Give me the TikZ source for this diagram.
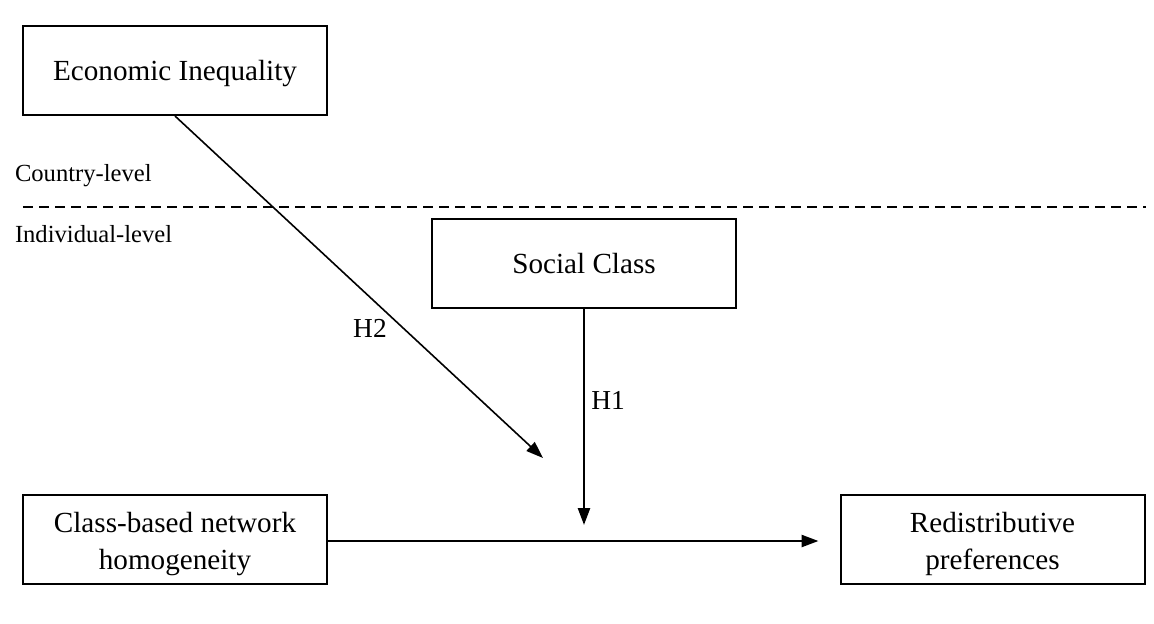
\documentclass[tikz,border=0pt]{standalone}
\usepackage{fontspec}
\setmainfont{Liberation Serif}
\usetikzlibrary{arrows.meta}

\begin{document}
\begin{tikzpicture}[every node/.style={inner sep=0pt}, every path/.style={line width=0.02cm},
    box/.style={draw, line width=0.02cm, minimum width=3.04cm, minimum height=0.89cm, align=center, text depth=0pt, font=\fontsize{8.3}{10.5}\selectfont},
    twoline/.style={text height=0.6cm, text depth=0pt},
    lbl/.style={font=\fontsize{7}{8.4}\selectfont},
    hyp/.style={font=\fontsize{7.8}{9.4}\selectfont},
    arr/.style={-{Triangle[length=0.17cm, width=0.12cm]}}]
    \useasboundingbox (0,0) rectangle (11.54,-6.23);

    
    \node[box] (econ) at (1.75,-0.705) {Economic Inequality};

    
    \node[lbl, anchor=west] (country) at (0.14,-1.76) {Country-level};
    \node[lbl, anchor=west] (indiv) at (0.14,-2.34) {Individual-level};
    \coordinate (dashl) at (0.23,-2.07);
    \coordinate (dashr) at (11.46,-2.07);

    
    \node[box] (social) at (5.84,-2.63) {Social Class};

    
    \node[box, twoline] (network) at (1.75,-5.395) {Class-based network\\homogeneity};
    \node[box, twoline] (redist) at (9.925,-5.395) {Redistributive\\preferences};

    
    \coordinate (h2end) at (5.43,-4.58);
    \coordinate (h1end) at (5.84,-5.25);

    \node[hyp] (h2) at (3.7,-3.28) {H2};
    \node[hyp] (h1) at (6.08,-4.0) {H1};

    \draw[dash pattern=on 0.1cm off 0.06cm] (dashl) to (dashr);
    \draw[arr, line width=0.016cm] (econ.south) to (h2end);
    \draw[arr, line width=0.025cm] (social.south) to (h1end);
    \draw[arr, line width=0.025cm, shorten >=0.21cm] (network.east |- 0,-5.41) to (redist.west |- 0,-5.41);
\end{tikzpicture}
\end{document}
